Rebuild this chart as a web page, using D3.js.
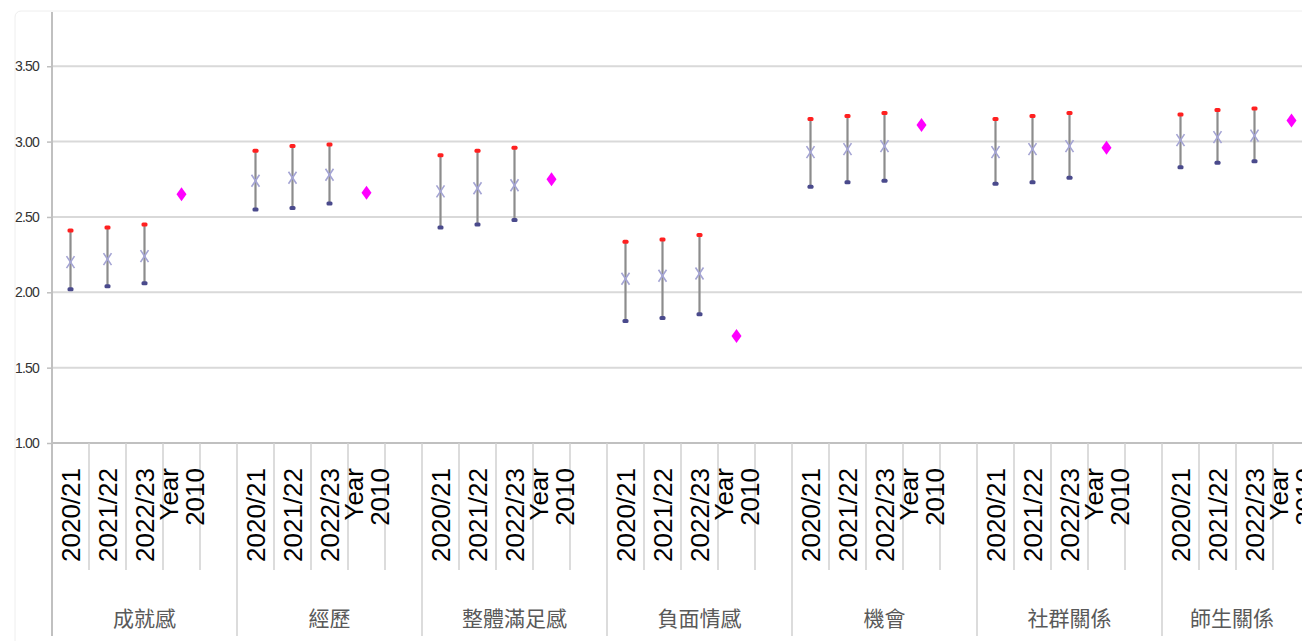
<!DOCTYPE html>
<html>
  <head>
    <meta charset="utf-8">
    <title>Scores by year</title>
    <style>
      body { margin: 0; background: #fff; overflow: hidden; }
      .ytick text { font-family: 'Liberation Sans', Arial, sans-serif; font-size: 14px; fill: #333; letter-spacing: -0.8px; }
      .slot-label { font-family: 'Liberation Sans', Arial, sans-serif; font-size: 26px; fill: #000; }
      .cat-label { font-family: 'Noto Sans CJK TC', sans-serif; font-size: 21px; fill: #595959; }
    </style>
    <script src="https://cdnjs.cloudflare.com/ajax/libs/d3/7.8.5/d3.min.js"></script>
  </head>
  <body>
    <div id="chart"></div>
    <script type="text/javascript">
    // categories and slot labels
    var categories = ['成就感', '經歷', '整體滿足感', '負面情感', '機會', '社群關係', '師生關係'];
    var slots = ['2020/21', '2021/22', '2022/23', 'Year 2010', ''];
    var yTicks = [1.00, 1.50, 2.00, 2.50, 3.00, 3.50];

    // means per year
    var mean2021 = [2.20, 2.74, 2.67, 2.09, 2.93, 2.93, 3.01];
    var mean2122 = [2.22, 2.76, 2.69, 2.11, 2.95, 2.95, 3.03];
    var mean2223 = [2.24, 2.78, 2.71, 2.125, 2.97, 2.97, 3.04];
    // upper and lower ends of the bars
    var upper2021 = [2.41, 2.94, 2.91, 2.335, 3.15, 3.15, 3.18];
    var upper2122 = [2.43, 2.97, 2.94, 2.35, 3.17, 3.17, 3.21];
    var upper2223 = [2.45, 2.98, 2.96, 2.38, 3.19, 3.19, 3.22];
    var lower2021 = [2.02, 2.55, 2.43, 1.81, 2.70, 2.72, 2.83];
    var lower2122 = [2.04, 2.56, 2.45, 1.83, 2.73, 2.73, 2.86];
    var lower2223 = [2.06, 2.59, 2.48, 1.855, 2.74, 2.76, 2.87];
    // Year 2010 values
    var year2010 = [2.65, 2.66, 2.75, 1.71, 3.11, 2.96, 3.14];

    var W = 1302, H = 641;
    var plotLeft = 52, plotTop = 12, axisY = 443;
    var groupW = 185;

    var svg = d3.select('#chart').append('svg').attr('width', W).attr('height', H);

    // faint outer frame
    svg.append('rect').attr('x', 15).attr('y', 11).attr('width', W).attr('height', H)
       .attr('rx', 6).style('fill', 'none').style('stroke', '#eeeeee');

    var y = d3.scaleLinear().domain([1, 3.86]).range([axisY, plotTop]);
    var xGroup = d3.scaleBand().domain(categories).range([plotLeft, plotLeft + groupW * categories.length]);
    var xSlot = d3.scaleBand().domain(slots.map(function(d, i) { return i; })).range([0, xGroup.bandwidth()]);

    // gridlines
    svg.append('g').selectAll('line').data(yTicks.slice(1)).enter().append('line')
       .attr('x1', plotLeft).attr('x2', W)
       .attr('y1', function(d) { return y(d); }).attr('y2', function(d) { return y(d); })
       .style('stroke', '#d9d9d9').style('stroke-width', 2);

    // y axis
    var yAxis = d3.axisLeft(y).tickValues(yTicks).tickFormat(d3.format('.2f')).tickSize(5).tickPadding(8);
    var ya = svg.append('g').attr('class', 'ytick').attr('transform', 'translate(' + plotLeft + ',0)').call(yAxis);
    ya.select('.domain').remove();
    ya.selectAll('line').style('stroke', '#bfbfbf').style('stroke-width', 1.5);
    svg.append('line').attr('x1', plotLeft).attr('x2', plotLeft).attr('y1', plotTop).attr('y2', 636)
       .style('stroke', '#c0c0c0').style('stroke-width', 2);
    // x axis line
    svg.append('line').attr('x1', plotLeft).attr('x2', W).attr('y1', axisY).attr('y2', axisY)
       .style('stroke', '#c0c0c0').style('stroke-width', 2);

    // slot and group dividers
    var div = svg.append('g');
    categories.forEach(function(c) {
      var gx = xGroup(c);
      for (var k = 1; k <= 5; k++) {
        var x = gx + xSlot.step() * k;
        div.append('line').attr('x1', x).attr('x2', x).attr('y1', axisY)
           .attr('y2', k === 5 ? 636 : 570)
           .style('stroke', '#d0d0d0').style('stroke-width', 1.5);
      }
    });

    // slot labels
    var labels = svg.append('g');
    categories.forEach(function(c) {
      slots.forEach(function(s, i) {
        if (!s) return;
        var cx = xGroup(c) + xSlot(i) + xSlot.bandwidth() / 2;
        var lines = s.split(' ');
        lines.forEach(function(l, j) {
          var off = (j - (lines.length - 1) / 2) * 26;
          labels.append('text').attr('class', 'slot-label')
                .attr('transform', 'translate(' + (cx + off) + ',468) rotate(-90)')
                .attr('text-anchor', 'end')
                .attr('dominant-baseline', 'central')
                .text(l);
        });
      });
      var gx0 = xGroup(c), gx1 = Math.min(gx0 + xGroup.bandwidth(), W);
      svg.append('text').attr('class', 'cat-label')
         .attr('x', (gx0 + gx1) / 2).attr('y', 617)
         .attr('text-anchor', 'middle').attr('dominant-baseline', 'central')
         .text(c);
    });

    // error bars
    var series = [
      { mean: mean2021, upper: upper2021, lower: lower2021, slot: 0 },
      { mean: mean2122, upper: upper2122, lower: lower2122, slot: 1 },
      { mean: mean2223, upper: upper2223, lower: lower2223, slot: 2 }
    ];
    var marks = svg.append('g');
    series.forEach(function(s) {
      categories.forEach(function(c, i) {
        var cx = xGroup(c) + xSlot(s.slot) + xSlot.bandwidth() / 2;
        marks.append('line').attr('x1', cx).attr('x2', cx)
             .attr('y1', y(s.upper[i])).attr('y2', y(s.lower[i]))
             .style('stroke', '#8c8c8c').style('stroke-width', 2.2);
        marks.append('rect').attr('x', cx - 3).attr('y', y(s.upper[i]) - 2)
             .attr('width', 6).attr('height', 4).attr('rx', 1.5).style('fill', '#ff2020');
        marks.append('rect').attr('x', cx - 3).attr('y', y(s.lower[i]) - 2)
             .attr('width', 6).attr('height', 4).attr('rx', 1.5).style('fill', '#4a4a8c');
        var my = y(s.mean[i]);
        marks.append('path')
             .attr('d', 'M' + (cx - 4) + ',' + (my - 6) + 'L' + (cx + 4) + ',' + (my + 6) +
                        'M' + (cx + 4) + ',' + (my - 6) + 'L' + (cx - 4) + ',' + (my + 6))
             .style('stroke', '#a4a4d4').style('stroke-width', 1.6).style('fill', 'none');
      });
    });

    // Year 2010 diamonds
    categories.forEach(function(c, i) {
      var cx = xGroup(c) + xSlot(3) + xSlot.bandwidth() / 2;
      var cy = y(year2010[i]);
      marks.append('path')
           .attr('d', 'M' + cx + ',' + (cy - 7) + 'L' + (cx + 5) + ',' + cy + 'L' + cx + ',' + (cy + 7) + 'L' + (cx - 5) + ',' + cy + 'Z')
           .style('fill', '#ff00ff');
    });
    </script>
  </body>
</html>
